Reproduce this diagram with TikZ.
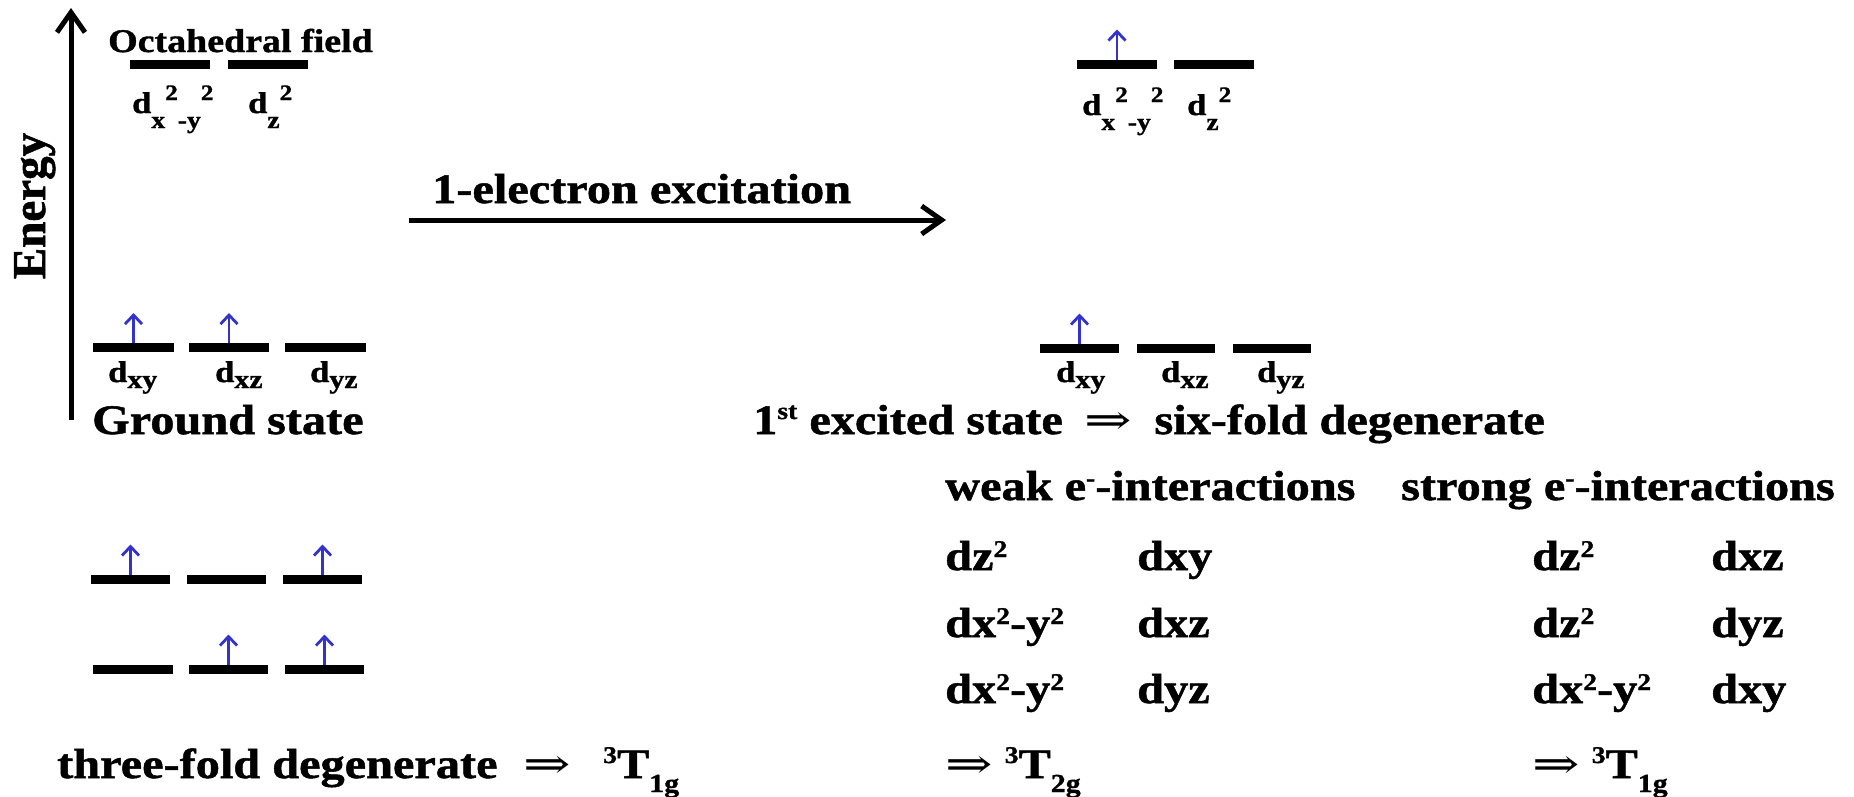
\documentclass[tikz,border=0pt]{standalone}
\usepackage{fontspec}
\setmainfont{Liberation Serif}
\newfontfamily\bw{Liberation Serif}[UprightFont={* Bold},FakeStretch=1.15,FakeBold=1.2]
\newfontfamily\bp{Liberation Serif}[UprightFont={* Bold},FakeBold=1.2]
\newfontfamily\arrfont{DejaVu Serif}
\usetikzlibrary{arrows.meta}
\definecolor{spin}{RGB}{51,51,204}
\newcommand\myhi[2][13]{\raisebox{#1pt}{\fontsize{24}{24}\selectfont #2}}
\newcommand\mylo[2][14]{\raisebox{-#1pt}{\fontsize{26}{26}\selectfont #2}}
\newcommand\lhi[1]{\raisebox{13pt}{\fontsize{22}{22}\selectfont #1}}
\newcommand\llo[2][15]{\raisebox{-#1pt}{\fontsize{24}{24}\selectfont #2}}
\newcommand\imp{\scalebox{1.35}[1]{\arrfont\fontsize{42}{42}\selectfont ⇒}}
\begin{document}
\begin{tikzpicture}[x=1pt,y=-1pt,
  bar/.style={line width=9pt},
  spinarrow/.style={draw=spin,line width=2.8pt,-{Straight Barb[length=9pt,width=17pt]}},
  big/.style={inner sep=0pt,anchor=base west,font=\bw\fontsize{42}{44}\selectfont},
  lab/.style={inner sep=0pt,anchor=base west,font=\bw\fontsize{30}{32}\selectfont},
  axisarrow/.style={line width=5pt,-{Straight Barb[length=20pt,width=28pt]}}]
\useasboundingbox (0,0) rectangle (1854,796);

% energy axis
\coordinate (eb) at (71,420);
\coordinate (et) at (71,8);
\draw[axisarrow] (eb) -- (et);
\node[font=\bp\fontsize{47}{50}\selectfont,inner sep=0pt,rotate=90,anchor=base] (en) at (45,206) {Energy};

% top-left (octahedral field, eg)
\node[inner sep=0pt,anchor=base west,font=\bw\fontsize{33}{36}\selectfont] (oct) at (108,52) {Octahedral field};
\draw[bar] (130,64) -- (210,64);
\draw[bar] (228,64) -- (308,64);
\node[lab] (tlx) at (132,113) {d\llo{x}\lhi{2}\llo{-y}\lhi{2}};
\node[lab] (tlz) at (248,113) {d\llo{z}\lhi{2}};

% top-right
\draw[bar] (1077,64) -- node[coordinate,pos=.5](trA){} (1157,64);
\draw[bar] (1174,64) -- (1254,64);
\draw[spinarrow] ([yshift=4.5pt]trA) -- ++(0,-30);
\node[lab] (trx) at (1082,115) {d\llo{x}\lhi{2}\llo{-y}\lhi{2}};
\node[lab] (trz) at (1187,115) {d\llo{z}\lhi{2}};

% excitation arrow
\node[big] (el) at (432,203) {1-electron excitation};
\coordinate (xa) at (409,220);
\coordinate (xb) at (946,220);
\draw[axisarrow] (xa) -- (xb);

% ground state t2g
\draw[bar] (93,347.5) -- node[coordinate,pos=.5](mlA){} (174,347.5);
\draw[bar] (189,347.5) -- node[coordinate,pos=.5](mlB){} (269,347.5);
\draw[bar] (285,347.5) -- (366,347.5);
\draw[spinarrow] ([yshift=4.5pt]mlA) -- ++(0,-30);
\draw[spinarrow] ([yshift=4.5pt]mlB) -- ++(0,-30);
\node[lab] (gxy) at (108,382) {d\mylo[6]{xy}};
\node[lab] (gxz) at (215,382) {d\mylo[6]{xz}};
\node[lab] (gyz) at (310,382) {d\mylo[6]{yz}};
\node[big] (gs) at (92,434) {Ground state};

% excited state t2g
\draw[bar] (1040,348) -- node[coordinate,pos=.5](mrA){} (1119,348);
\draw[bar] (1137,348) -- (1215,348);
\draw[bar] (1233,348) -- (1311,348);
\draw[spinarrow] ([yshift=4.5pt]mrA) -- ++(0,-30);
\node[lab] (exy) at (1056,382) {d\mylo[6]{xy}};
\node[lab] (exz) at (1161,382) {d\mylo[6]{xz}};
\node[lab] (eyz) at (1257,382) {d\mylo[6]{yz}};
\node[big] (ex) at (753,434) {1\myhi[15]{st} excited state\hspace{10pt} \imp\hspace{10pt} six-fold degenerate};

% lower-left configurations
\draw[bar] (91,579) -- node[coordinate,pos=.5](a1){} (170,579);
\draw[bar] (187,579) -- (266,579);
\draw[bar] (283,579) -- node[coordinate,pos=.5](a3){} (362,579);
\draw[spinarrow] ([yshift=4.5pt]a1) -- ++(0,-30);
\draw[spinarrow] ([yshift=4.5pt]a3) -- ++(0,-30);
\draw[bar] (93,669) -- (173,669);
\draw[bar] (189,669) -- node[coordinate,pos=.5](b2){} (268,669);
\draw[bar] (285,669) -- node[coordinate,pos=.5](b3){} (364,669);
\draw[spinarrow] ([yshift=4.5pt]b2) -- ++(0,-30);
\draw[spinarrow] ([yshift=4.5pt]b3) -- ++(0,-30);
\node[big] (tf) at (57,778) {three-fold degenerate\hspace{14pt} \imp\hspace{20pt} \myhi[15]{3}T\mylo[14]{1g}};

% interactions table
\node[big] (weak) at (945,500) {weak e\myhi[14]{-}-interactions};
\node[big] (strong) at (1401,500) {strong e\myhi[14]{-}-interactions};
\node[big] (w1a) at (945,570) {dz\myhi{2}};
\node[big] (w1b) at (1137,570) {dxy};
\node[big] (w2a) at (945,637) {dx\myhi{2}-y\myhi{2}};
\node[big] (w2b) at (1137,637) {dxz};
\node[big] (w3a) at (945,703) {dx\myhi{2}-y\myhi{2}};
\node[big] (w3b) at (1137,703) {dyz};
\node[big] (w4) at (945,778) {\imp\ \myhi[15]{3}T\mylo[14]{2g}};
\node[big] (s1a) at (1532,570) {dz\myhi{2}};
\node[big] (s1b) at (1711,570) {dxz};
\node[big] (s2a) at (1532,637) {dz\myhi{2}};
\node[big] (s2b) at (1711,637) {dyz};
\node[big] (s3a) at (1532,703) {dx\myhi{2}-y\myhi{2}};
\node[big] (s3b) at (1711,703) {dxy};
\node[big] (s4) at (1532,778) {\imp\ \myhi[15]{3}T\mylo[14]{1g}};
\end{tikzpicture}
\end{document}
